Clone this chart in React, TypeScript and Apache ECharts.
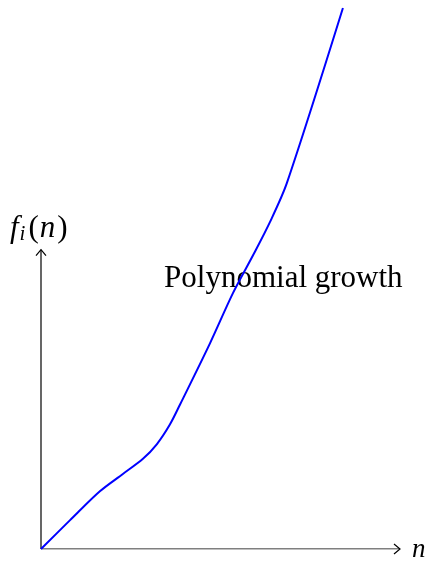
import React, { useEffect, useRef } from "react";
import * as echarts from "echarts";

// Curve samples (n, f(n))
const curveN = [0, 0.81, 1.64, 2.28, 2.84, 3.23, 3.59, 3.87, 4.71, 5.35, 5.91, 6.38, 6.85, 8.41];
const curveF = [0, 0.8, 1.6, 2.08, 2.5, 2.91, 3.45, 4.0, 5.71, 7.1, 8.15, 9.07, 10.15, 15.0];

// Axis extents (data units)
const xAxisEnd = 10;
const yAxisEnd = 8.3;
const yMax = 15;

const annotation = "Polynomial growth";
const annotationAt = [6.75, 7.55];

export default function App() {
  const ref = useRef<HTMLDivElement>(null);
  useEffect(() => {
    document.body.style.margin = "0";
    const chart = echarts.init(ref.current!, null, { renderer: "svg" });
    const black = "#000";
    chart.setOption({
      animation: false,
      grid: { left: 41, right: 29, top: 8, bottom: 13 },
      xAxis: { type: "value", min: 0, max: xAxisEnd, show: false },
      yAxis: { type: "value", min: 0, max: yMax, show: false },
      series: [
        {
          type: "line",
          data: [[0, 0], [xAxisEnd, 0]],
          symbol: "none",
          lineStyle: { color: black, width: 1.2 },
          silent: true,
        },
        {
          type: "line",
          data: [[0, 0], [0, yAxisEnd]],
          symbol: "none",
          lineStyle: { color: black, width: 1.2 },
          silent: true,
        },
        {
          type: "line",
          data: curveN.map((n, i) => [n, curveF[i]]),
          symbol: "none",
          smooth: 0.3,
          clip: false,
          lineStyle: { color: "#0000ff", width: 2 },
        },
        {
          type: "scatter",
          data: [annotationAt],
          symbolSize: 0,
          itemStyle: { opacity: 1 },
          label: {
            show: true,
            position: "inside",
            formatter: annotation,
            fontFamily: "Liberation Serif",
            fontSize: 31,
            color: "#000",
          },
        },
      ],
    });
    const px = chart.convertToPixel({ gridIndex: 0 }, [xAxisEnd, 0]) as number[];
    const py = chart.convertToPixel({ gridIndex: 0 }, [0, yAxisEnd]) as number[];
    const a = 6, b = 5;
    chart.setOption({
      graphic: [
        {
          type: "polyline",
          shape: { points: [[px[0] - a, px[1] - b], [px[0], px[1]], [px[0] - a, px[1] + b]] },
          style: { stroke: black, lineWidth: 1.2, fill: null },
        },
        {
          type: "polyline",
          shape: { points: [[py[0] - b, py[1] + a], [py[0], py[1]], [py[0] + b, py[1] + a]] },
          style: { stroke: black, lineWidth: 1.2, fill: null },
        },
        {
          type: "text",
          x: px[0] + 12,
          y: px[1] - 1,
          style: {
            text: "n",
            fontFamily: "Liberation Serif",
            fontStyle: "italic",
            fontSize: 27,
            lineHeight: 18,
            fill: "#000",
            verticalAlign: "middle",
          },
        },
        {
          type: "text",
          x: 10,
          y: 226,
          style: {
            text: "{f|f}{s|i}{p|(}{f|n}{p|)}",
            verticalAlign: "middle",
            rich: {
              f: { fontFamily: "Liberation Serif", fontStyle: "italic", fontSize: 31, fill: "#000", verticalAlign: "middle", padding: [0, 1, 0, 0] },
              p: { fontFamily: "Liberation Serif", fontSize: 31, fill: "#000", verticalAlign: "middle", padding: [0, 1, 0, 1] },
              s: { fontFamily: "Liberation Serif", fontStyle: "italic", fontSize: 21, fill: "#000", padding: [14, 2, 0, 0], verticalAlign: "middle" },
            },
          },
        },
      ],
    });
    return () => chart.dispose();
  }, []);
  return <div ref={ref} style={{ position: "fixed", left: 0, top: 0, width: 429, height: 562 }} />;
}
